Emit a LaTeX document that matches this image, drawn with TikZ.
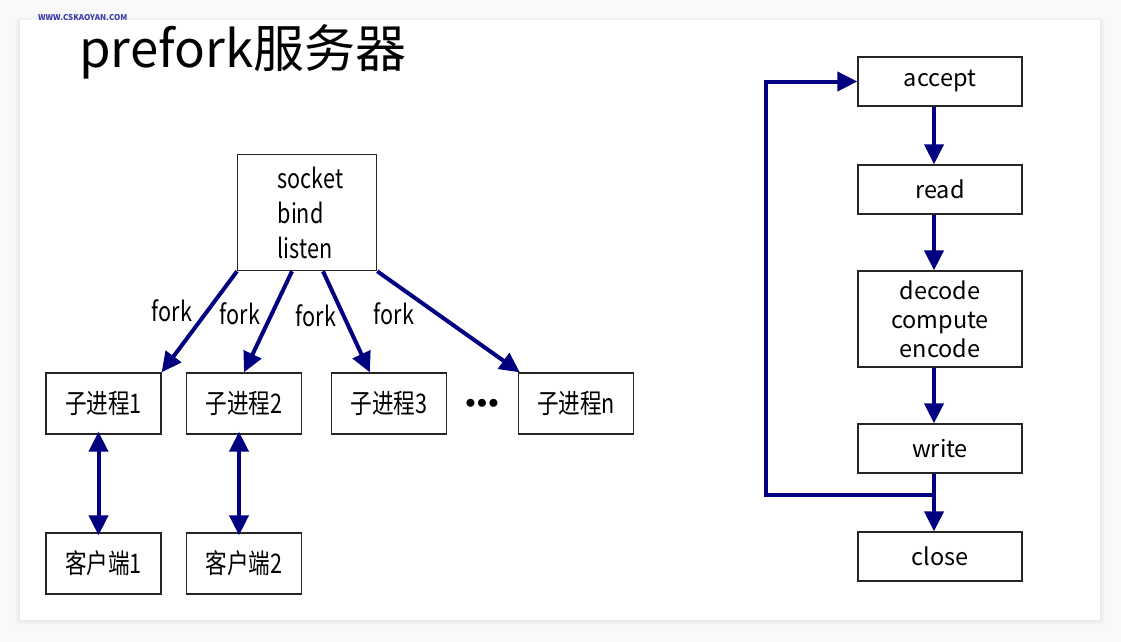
\documentclass[tikz,border=0pt]{standalone}
\usepackage{fontspec}
\setmainfont{Noto Sans CJK SC}
\newfontfamily\boxfont[FakeStretch=0.8]{Noto Sans CJK SC}
\usetikzlibrary{arrows.meta}
\definecolor{navyarrow}{RGB}{0,0,128}
\definecolor{wmblue}{RGB}{60,60,170}
\begin{document}
\begin{tikzpicture}[x=1pt,y=-1pt,
  box/.style={draw=black!85,line width=1.3pt,fill=white,inner sep=0pt,font=\boxfont\fontsize{27}{35}\selectfont},
  lbox/.style={box,minimum width=115pt,minimum height=61pt},
  rbox/.style={draw=black!85,line width=1.3pt,fill=white,inner sep=0pt,minimum width=164pt,minimum height=49pt,font=\fontsize{23.5}{29}\selectfont},
  arr/.style={draw=navyarrow,line width=4pt,-{Triangle[length=20pt,width=19pt]}},
  darr/.style={draw=navyarrow,line width=4pt,{Triangle[length=20pt,width=19pt]}-{Triangle[length=20pt,width=19pt]}},
  flbl/.style={font=\boxfont\fontsize{27}{30}\selectfont,inner sep=0pt}]
\useasboundingbox (0,0) rectangle (1121,642);
\fill[gray!5] (0,0) rectangle (1121,642);
\foreach \i/\c in {6/black!3,4/black!5,2/black!8}{
  \fill[\c] (20-\i,20-\i+2) rectangle (1100+\i,620+\i);
}
\fill[white] (20,20) rectangle (1100,620);
\node[font=\bfseries\fontsize{8}{8}\selectfont,text=wmblue,inner sep=0pt,anchor=west] (wm) at (38,17.5) {WWW.CSKAOYAN.COM};
\node[anchor=base west,inner sep=0pt,text height=37pt,font=\fontsize{51}{53}\selectfont] (title) at (79,67) {prefork服务器};

% left part
\node[box,anchor=north west,minimum height=116pt,text width=59pt,inner xsep=40pt,align=left] (top) at (237,154) {socket\\bind\\listen};
\node[lbox] (c1) at (103.5,403.5) {子进程1};
\node[lbox] (c2) at (244,403.5) {子进程2};
\node[lbox] (c3) at (389,403.5) {子进程3};
\node[lbox] (cn) at (576,403.5) {子进程n};
\node[font=\bfseries\fontsize{20}{20}\selectfont,inner sep=0pt] (dots) at (482,404) {$\bullet\!\bullet\!\bullet$};
\node[lbox] (k1) at (103.5,563.5) {客户端1};
\node[lbox] (k2) at (244,563.5) {客户端2};

\draw[arr] (top.south west) -- (c1.north east);
\draw[arr] ([xshift=55pt]top.south west) -- (c2.north);
\draw[arr] ([xshift=86pt]top.south west) -- ([xshift=39pt]c3.north west);
\draw[arr] (top.south east) -- ([xshift=2pt]cn.north west);
\node[flbl] (f1) at (172,311) {fork};
\node[flbl] (f2) at (240,314) {fork};
\node[flbl] (f3) at (316,316) {fork};
\node[flbl] (f4) at (394,314) {fork};

\draw[darr] ([yshift=3pt,xshift=-5pt]c1.south) -- ([yshift=-3pt,xshift=-5pt]k1.north);
\draw[darr] ([yshift=3pt,xshift=-5pt]c2.south) -- ([yshift=-3pt,xshift=-5pt]k2.north);

% right part
\node[rbox] (accept) at (940,81.5) {accept};
\node[rbox] (read) at (940,189.5) {read};
\node[rbox,minimum height=96pt,align=center] (dce) at (940,319) {decode\\compute\\encode};
\node[rbox] (write) at (940,448.5) {write};
\node[rbox] (close) at (940,556.5) {close};
\coordinate (lp) at (766,495);

\draw[arr] ([xshift=-6pt]accept.south) -- ([xshift=-6pt]read.north);
\draw[arr] ([xshift=-6pt]read.south) -- ([xshift=-6pt]dce.north);
\draw[arr] ([xshift=-6pt]dce.south) -- ([xshift=-6pt]write.north);
\draw[arr] ([xshift=-6pt]write.south) -- ([xshift=-6pt]close.north);
\draw[arr] ([xshift=-6pt]write.south) |- (lp) |- (accept.west);
\end{tikzpicture}
\end{document}
